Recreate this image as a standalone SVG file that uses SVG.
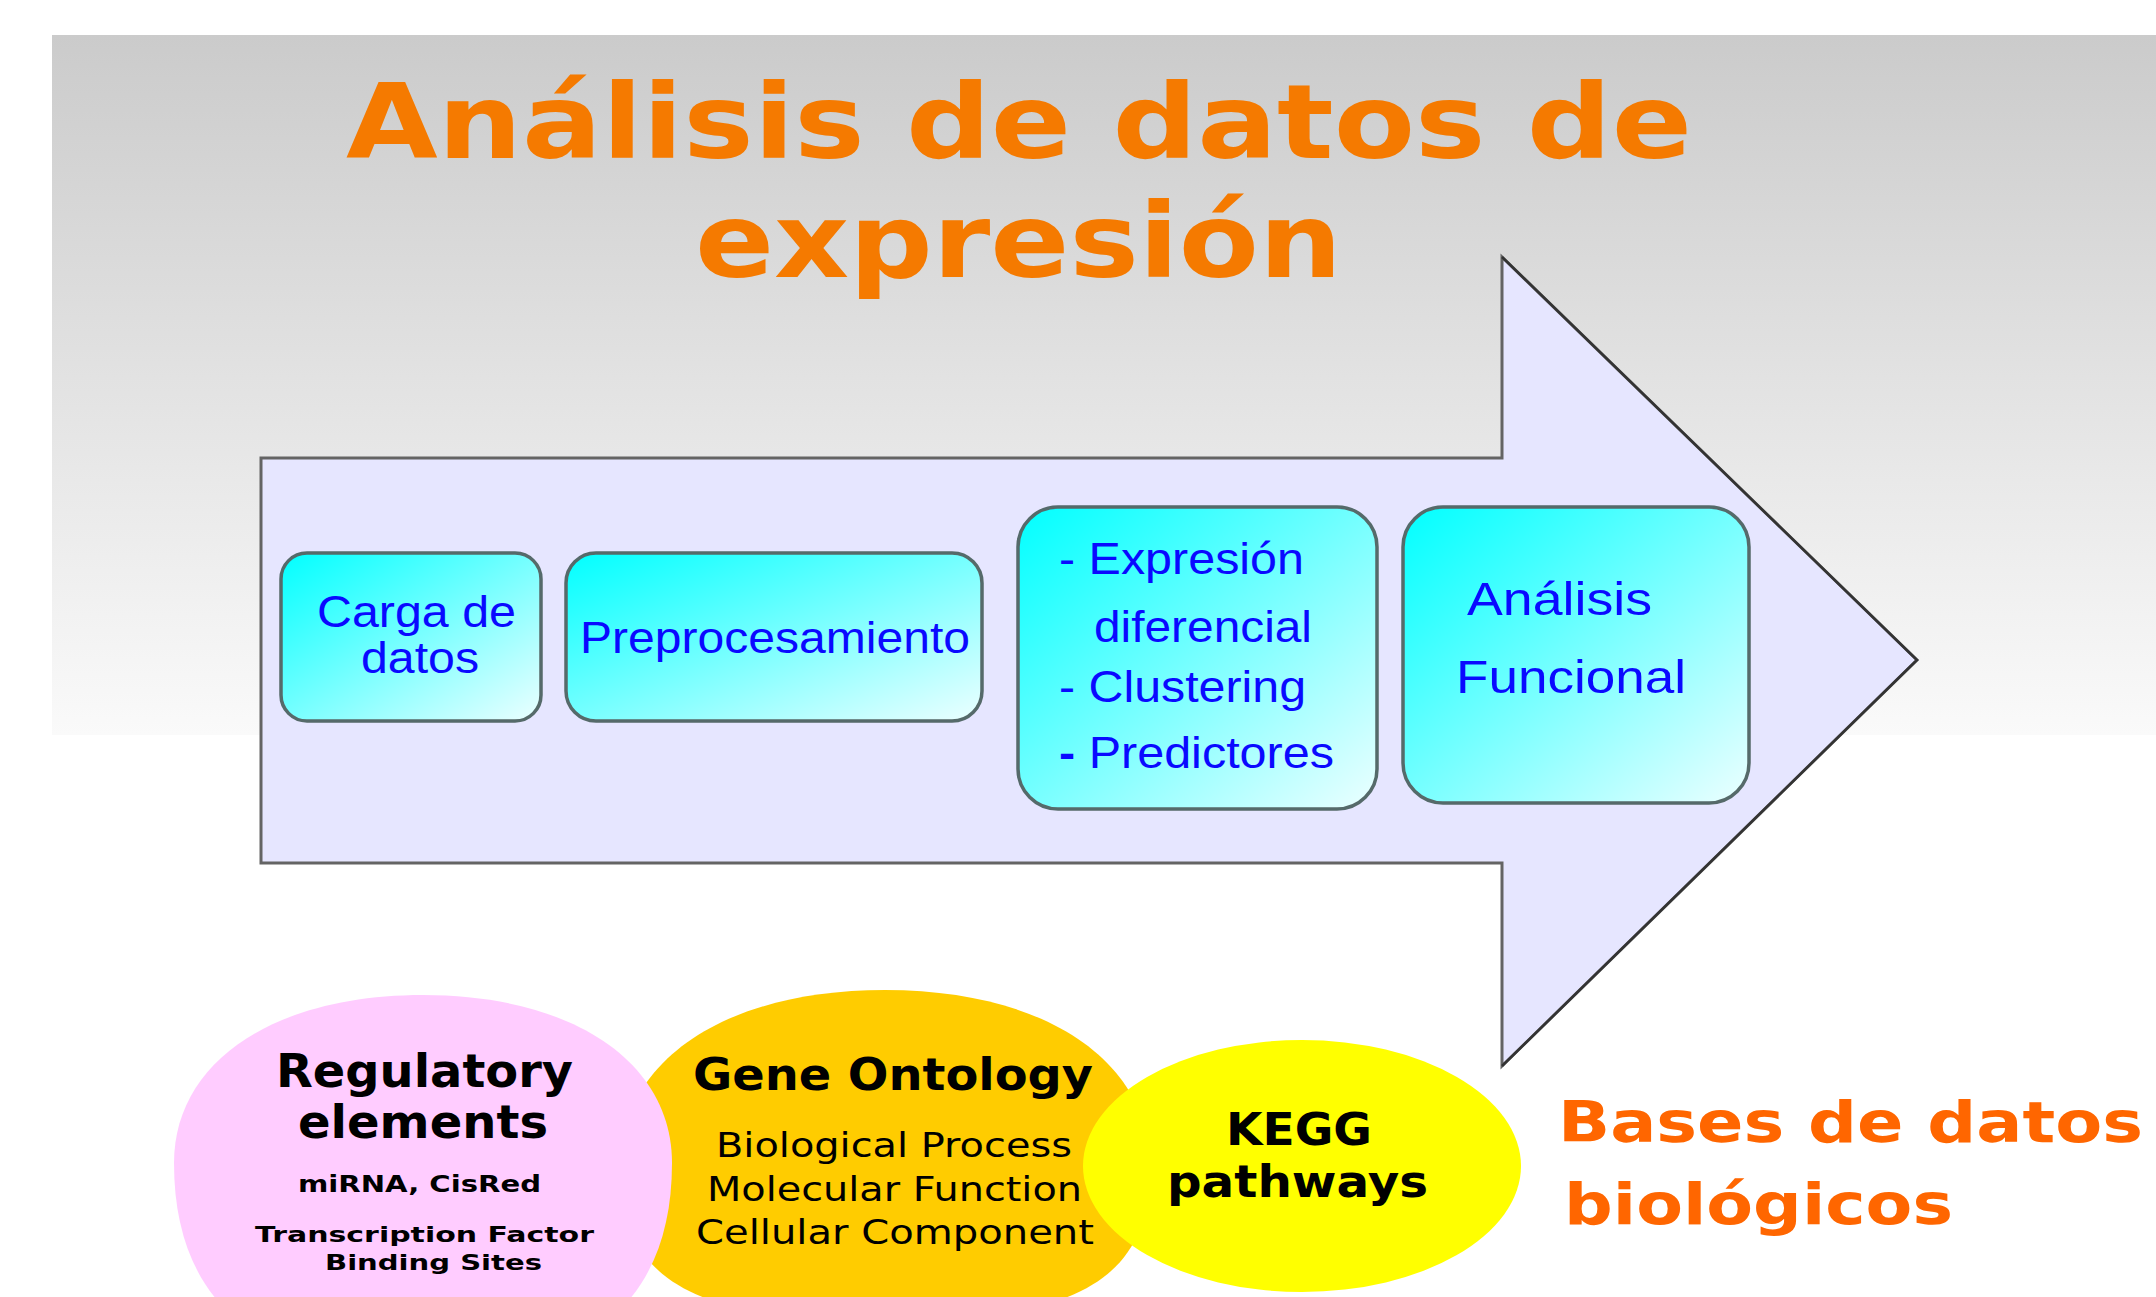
<svg xmlns="http://www.w3.org/2000/svg" width="2156" height="1297" viewBox="0 0 2156 1297">
<defs>
<linearGradient id="bg" x1="0" y1="0" x2="0" y2="1">
<stop offset="0" stop-color="#cbcbcb"/>
<stop offset="1" stop-color="#fafafa"/>
</linearGradient>
<linearGradient id="cyan" x1="0" y1="0" x2="1" y2="1">
<stop offset="0" stop-color="#00ffff"/>
<stop offset="1" stop-color="#ecffff"/>
</linearGradient>
<style>
.title{font-family:"DejaVu Sans",Verdana,sans-serif;font-weight:bold;fill:#f57a00;font-size:103px}
.bases{font-family:"DejaVu Sans",Verdana,sans-serif;font-weight:bold;fill:#ff6600;font-size:57px}
.box{fill:url(#cyan);stroke:#556a6a;stroke-width:3.5}
.bt{font-family:"Liberation Sans",Arial,sans-serif;fill:#0a0aff;font-size:44px}
.big{font-family:"DejaVu Sans",Verdana,sans-serif;font-weight:bold;fill:#000;font-size:45px}
.sm{font-family:"DejaVu Sans",Verdana,sans-serif;font-weight:bold;fill:#000}
.reg{font-family:"DejaVu Sans",Verdana,sans-serif;fill:#000;font-size:33px}
</style>
</defs>
<rect x="0" y="0" width="2156" height="1297" fill="#ffffff"/>
<rect x="52" y="35" width="2104" height="700" fill="url(#bg)"/>
<g id="title">
<text class="title" x="346" y="158" textLength="1346" lengthAdjust="spacingAndGlyphs">Análisis de datos de</text>
<text class="title" x="695" y="277" textLength="647" lengthAdjust="spacingAndGlyphs">expresión</text>
</g>
<g id="connectors">
<polygon points="261,458 1502,458 1502,257 1917,660 1502,1066 1502,863 261,863" fill="#e6e6ff" stroke="#646464" stroke-width="3" stroke-linejoin="miter"/>
<path d="M1502,257 L1917,660 L1502,1066" fill="none" stroke="#333333" stroke-width="2.5" stroke-linejoin="miter"/>
</g>
<g id="carga">
<rect class="box" x="281" y="553" width="260" height="168" rx="26"/>
<text class="bt" x="317" y="627" textLength="199" lengthAdjust="spacingAndGlyphs">Carga de</text>
<text class="bt" x="361" y="673" textLength="118" lengthAdjust="spacingAndGlyphs">datos</text>
</g>
<g id="preprocesamiento">
<rect class="box" x="566" y="553" width="416" height="168" rx="30"/>
<text class="bt" x="580" y="653" textLength="390" lengthAdjust="spacingAndGlyphs">Preprocesamiento</text>
</g>
<g id="expresion">
<rect class="box" x="1018" y="507" width="359" height="302" rx="40"/>
<text class="bt" x="1059" y="574" textLength="245" lengthAdjust="spacingAndGlyphs">- Expresión</text>
<text class="bt" x="1094" y="642" textLength="218" lengthAdjust="spacingAndGlyphs">diferencial</text>
<text class="bt" x="1059" y="702" textLength="247" lengthAdjust="spacingAndGlyphs">- Clustering</text>
<text class="bt" x="1059" y="768" textLength="275" lengthAdjust="spacingAndGlyphs"><tspan font-weight="bold">-</tspan> Predictores</text>
</g>
<g id="funcional">
<rect class="box" x="1403" y="507" width="346" height="296" rx="40"/>
<text class="bt" style="font-size:46px" x="1467" y="615" textLength="185" lengthAdjust="spacingAndGlyphs">Análisis</text>
<text class="bt" style="font-size:46px" x="1456" y="693" textLength="230" lengthAdjust="spacingAndGlyphs">Funcional</text>
</g>
<g id="gene-ontology">
<path d="M1150,1167 C1150,1279.4 1078.45,1321 885,1321 C691.55,1321 620,1279.4 620,1167 C620,1060 726,990 885,990 C1044,990 1150,1060 1150,1167 Z" fill="#ffcc00"/>
<text class="big" x="693" y="1090" textLength="400" lengthAdjust="spacingAndGlyphs">Gene Ontology</text>
<text class="reg" x="716" y="1157" textLength="356" lengthAdjust="spacingAndGlyphs">Biological Process</text>
<text class="reg" x="707" y="1201" textLength="375" lengthAdjust="spacingAndGlyphs">Molecular Function</text>
<text class="reg" x="696" y="1244" textLength="398" lengthAdjust="spacingAndGlyphs">Cellular Component</text>
</g>
<g id="regulatory">
<path d="M672,1163 C672,1301.6 587.3,1373 423,1373 C258.7,1373 174,1301.6 174,1163 C174,1062 273.6,995 423,995 C572.4,995 672,1062 672,1163 Z" fill="#ffccff"/>
<text class="big" style="font-size:46px" x="276" y="1087" textLength="297" lengthAdjust="spacingAndGlyphs">Regulatory</text>
<text class="big" style="font-size:46px" x="298" y="1138" textLength="250" lengthAdjust="spacingAndGlyphs">elements</text>
<text class="sm" style="font-size:23px" x="298" y="1192" textLength="243" lengthAdjust="spacingAndGlyphs">miRNA, CisRed</text>
<text class="sm" style="font-size:22px" x="255" y="1242" textLength="339" lengthAdjust="spacingAndGlyphs">Transcription Factor</text>
<text class="sm" style="font-size:21px" x="325" y="1270" textLength="217" lengthAdjust="spacingAndGlyphs">Binding Sites</text>
</g>
<g id="kegg">
<ellipse cx="1302" cy="1166" rx="219" ry="126" fill="#ffff00"/>
<text class="big" x="1226" y="1145" textLength="146" lengthAdjust="spacingAndGlyphs">KEGG</text>
<text class="big" x="1167" y="1197" textLength="261" lengthAdjust="spacingAndGlyphs">pathways</text>
</g>
<g id="bases">
<text class="bases" x="1558" y="1142" textLength="585" lengthAdjust="spacingAndGlyphs">Bases de datos</text>
<text class="bases" x="1564" y="1224" textLength="389" lengthAdjust="spacingAndGlyphs">biológicos</text>
</g>
</svg>
